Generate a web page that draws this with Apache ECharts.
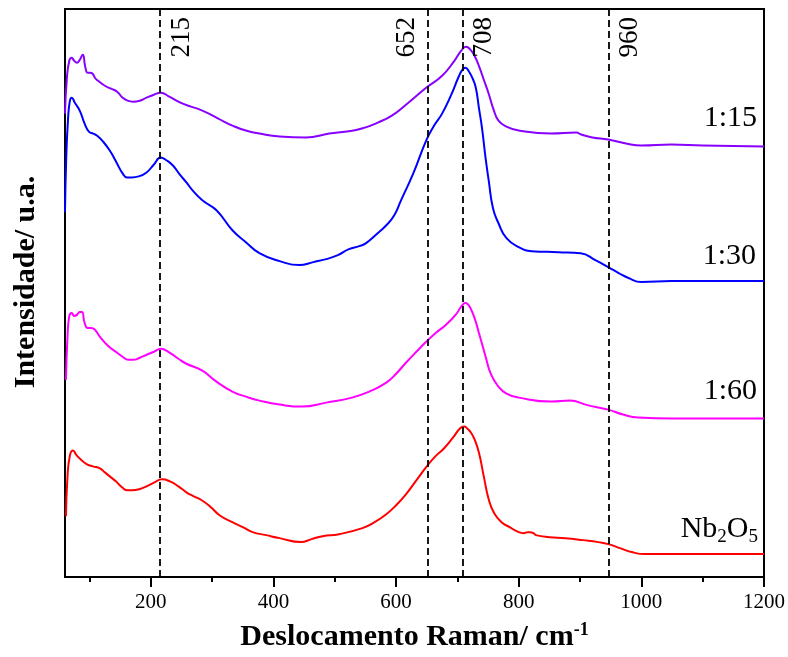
<!DOCTYPE html>
<html lang="pt">
<head>
    <meta charset="UTF-8">
    <title>Raman</title>
    <script src="https://cdn.jsdelivr.net/npm/echarts@6/dist/echarts.min.js"></script>
</head>
<style>
    *{
        margin: 0;
        padding: 0;
    }
    html,body{
        width: 100%;
        height: 100%;
        overflow: hidden;
        background: #fff;
    }
    .container{
        width: 788px;
        height: 657px;
    }
</style>
<body>
<div class="container"></div>
<script>
   // deslocamento Raman (cm-1), intensidade (u.a., curvas deslocadas)
   let nb2o5 = [[61.6,61],[64,100],[68,122],[73,127],[79,122],[87.6,117],[96,113],[105.5,111],[117,109],[125,105],[133,101],[143,96],[153,90],[162,87],[169,87],[181,88],[193,91],[206,95],[218,98],[231,96],[245,91],[258,85],[270,81],[283,77],[298,70],[312,62],[333,55],[350,50],[366,45],[388,42],[410,39],[445,35],[462,38],[480,41],[507,43],[545,49],[565,55],[584,63],[600,72],[616,83],[633,97],[650,111],[664,121],[678,129],[693,140],[704,149],[711,151],[716,149],[722,145],[728,138],[735,125],[743,101],[751,78],[760,64],[772,55],[785,50],[800,45],[808,44],[815,45],[819,45],[824,44],[828,42],[850,40],[876,39],[905,37],[930,35],[946,33],[965,29],[984,25],[1006,23],[1050,23],[1200,23]];
   let r160 = [[61.6,198],[64,240],[67,262],[71,265],[75,262],[79.5,263],[84,266],[87.6,266],[92,255],[97,250],[103,250],[109,248],[117,241],[130,232],[145,225],[154,221],[163,218],[171,218],[182,220],[193,223],[205,226],[216,229],[231,225],[245,219],[258,214],[284,207],[307,196],[333,186],[355,181],[377,177],[410,173],[447,171],[486,175],[528,180],[556,186],[584,195],[600,204],[616,215],[633,226],[649,236],[665,245],[681,253],[697,263],[707,272],[713,275],[718,273],[724,266],[730,256],[735,245],[741,232],[746,221],[755,203],[767,191],[780,184],[800,180],[853,176],[884,177],[909,173],[930,170],[946,168],[970,163],[995,160],[1050,159],[1200,159]];
   let r130 = [[60,366],[62,420],[65,460],[68,478],[71,481],[76,476],[84,468],[92,455],[99,447],[106,445],[112,443],[122,437],[133,428],[144,416],[154,405],[161,401],[169,401],[180,402],[193,406],[205,414],[216,421],[226,418],[236,413],[247,404],[258,396],[268,388],[284,378],[307,368],[333,348],[355,336],[377,325],[410,317],[442,313],[465,316],[486,319],[505,323],[523,329],[540,332],[551,335],[568,344],[584,353],[597,363],[608,378],[628,405],[649,438],[662,453],[675,465],[690,484],[702,502],[708,509],[713,511],[719,507],[725,500],[730,491],[735,471],[740,451],[746,420],[751,398],[758,370],[767,355],[780,340],[800,331],[821,327],[865,326],[901,325],[925,318],[946,311],[963,305],[979,300],[1000,296],[1049,297],[1100,297],[1200,297]];
   let r115 = [[60,465],[63,500],[67,518],[71,521],[75,518],[79.5,516],[84,519],[89,524],[93,512],[97,506],[101,506],[105,505],[110,500],[114,498],[125,493],[135,490],[145,487],[154,481],[162,478],[171,477],[182,478],[193,481],[205,484],[216,486],[230,482],[252,475],[284,468],[310,460],[333,453],[355,448],[377,445],[410,442],[453,441],[491,445],[520,447],[544,450],[570,456],[593,463],[620,476],[649,491],[675,503],[695,518],[706,528],[714,532],[720,530],[727,524],[735,513],[743,499],[751,485],[759,469],[767,458],[780,452],[800,448],[853,445],[894,446],[902,444],[920,441],[946,439],[975,435],[1000,433],[1049,434],[1100,433],[1200,432]];

   let peakPos = [215, 652, 708, 947];
   let peakText = ['215', '652', '708', '960'];
   let peakSide = ['insideEndBottom', 'insideEndTop', 'insideEndBottom', 'insideEndBottom'];

   let majorTicks = [200, 400, 600, 800, 1000, 1200];
   let minorTicks = [100, 300, 500, 700, 900, 1100];

   let serif = 'Liberation Serif';
   let container = document.querySelector('.container');
   let mycharts = echarts.init(container);

   function line(name, data, color) {
       return {
           name,
           type: 'line',
           data,
           symbol: 'none',
           smooth: 0.5,
           lineStyle: {color, width: 2},
           silent: true,
           z: 3
       };
   }

   let series = [
       line('Nb2O5', nb2o5, '#ff0000'),
       line('1:60', r160, '#ff00ff'),
       line('1:30', r130, '#0000ff'),
       line('1:15', r115, '#8800ff')
   ];

   series[0].markLine = {
       silent: true,
       symbol: ['none', 'none'],
       lineStyle: {color: '#000', type: [7, 4], width: 1.8},
       data: peakPos.map((p, i) => ({
           xAxis: p,
           label: {
               show: true,
               formatter: peakText[i],
               position: peakSide[i],
               distance: 8,
               fontFamily: serif,
               fontSize: 27,
               color: '#000'
           }
       }))
   };

   let options = {
       animation: false,
       backgroundColor: '#fff',
       grid: {
           left: 65, right: 22, top: 9, bottom: 79,
           show: true,
           borderColor: '#000',
           borderWidth: 2
       },
       xAxis: [{
           type: 'value',
           min: 60,
           max: 1200,
           name: 'Deslocamento Raman/ cm{sup|-1}',
           nameLocation: 'middle',
           nameGap: 44,
           nameTextStyle: {
               fontFamily: serif, fontSize: 30, fontWeight: 'bold', color: '#000',
               rich: {sup: {fontFamily: serif, fontSize: 18, fontWeight: 'bold', color: '#000', padding: [0, 0, 14, 0]}}
           },
           axisLine: {lineStyle: {color: '#000', width: 2}},
           axisTick: {customValues: majorTicks, length: 10, lineStyle: {color: '#000', width: 2}},
           axisLabel: {customValues: majorTicks, formatter: v => String(v), fontFamily: serif, fontSize: 21, color: '#000', margin: 15},
           splitLine: {show: false}
       }, {
           type: 'value',
           min: 60,
           max: 1200,
           position: 'bottom',
           axisLine: {show: false},
           axisTick: {customValues: minorTicks, length: 5, lineStyle: {color: '#000', width: 2}},
           axisLabel: {show: false},
           splitLine: {show: false}
       }],
       yAxis: {
           type: 'value',
           min: 0,
           max: 570,
           name: 'Intensidade/ u.a.',
           nameLocation: 'middle',
           nameGap: 24,
           nameTextStyle: {fontFamily: serif, fontSize: 30, fontWeight: 'bold', color: '#000', padding: [0, 0, 0, 22]},
           axisLine: {show: false},
           axisTick: {show: false},
           axisLabel: {show: false},
           splitLine: {show: false}
       },
       graphic: [
           {type: 'text', right: 31, top: 103, style: {text: '1:15', font: '30px "Liberation Serif"', fill: '#000'}},
           {type: 'text', right: 32, top: 241, style: {text: '1:30', font: '30px "Liberation Serif"', fill: '#000'}},
           {type: 'text', right: 31, top: 376, style: {text: '1:60', font: '30px "Liberation Serif"', fill: '#000'}},
           {type: 'text', right: 30, top: 512, style: {
               text: '{a|Nb}{s|2}{a|O}{s|5}',
               rich: {
                   a: {fontFamily: serif, fontSize: 30, color: '#000', lineHeight: 34},
                   s: {fontFamily: serif, fontSize: 19, color: '#000', lineHeight: 34, padding: [16, 0, 0, 0]}
               }
           }}
       ],
       series
   };

   mycharts.setOption(options);
</script>
</body>
</html>
